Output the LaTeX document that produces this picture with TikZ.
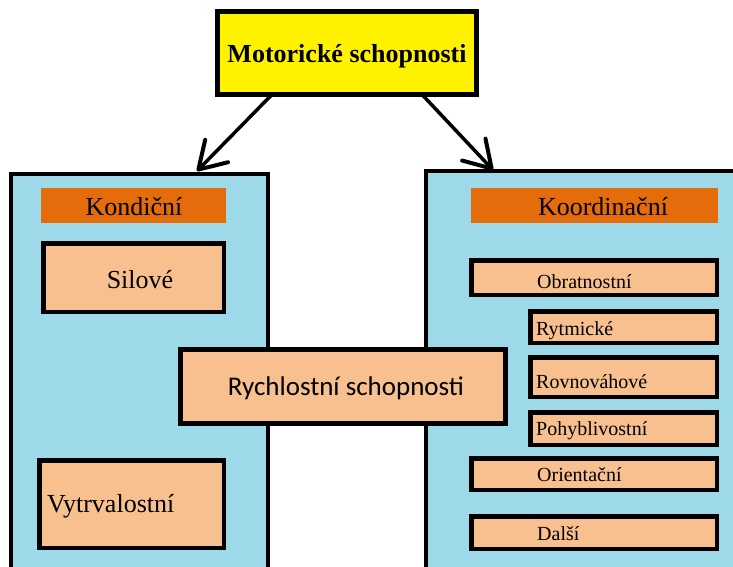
\documentclass[tikz,border=0pt]{standalone}
\usepackage{fontspec}
\setmainfont{Liberation Serif}
\newfontfamily\calibfont{Carlito}
\usetikzlibrary{arrows.meta}
\definecolor{panelblue}{HTML}{9DD9E9}
\definecolor{hdrorange}{HTML}{E46C0A}
\definecolor{peach}{HTML}{F9C08F}
\definecolor{topyellow}{HTML}{FFF200}
\tikzset{
  panel/.style={draw=black, line width=4pt, fill=panelblue, rectangle, outer sep=0pt, inner sep=0pt, anchor=north west},
  hdr/.style={fill=hdrorange, rectangle, outer sep=0pt, inner sep=0pt, anchor=north west},
  sbox/.style={draw=black, line width=4.5pt, fill=peach, rectangle, outer sep=0pt, inner sep=0pt, anchor=north west},
  bigtxt/.style={inner sep=0pt, anchor=base, font=\fontsize{26}{30}\selectfont},
  smalltxt/.style={inner sep=0pt, anchor=base west, font=\fontsize{20}{24}\selectfont},
  arr/.style={line width=3.5pt, -{Straight Barb[length=26pt, width=32pt, line width=4pt, round]}},
}
\begin{document}
\begin{tikzpicture}[x=1pt,y=-1pt]
\useasboundingbox (0,0) rectangle (733,567);
\clip (0,0) rectangle (733,567);
\fill[white] (0,0) rectangle (733,567);
% panels
\node[panel, minimum width=257, minimum height=410] (kond) at (11,174) {};
\node[panel, minimum width=330, minimum height=410] (koord) at (426,171) {};
% headers
\node[hdr, minimum width=185, minimum height=35] (kondh) at (41,188) {};
\node[bigtxt] (kondt) at (134,215) {Kondiční};
\node[hdr, minimum width=247, minimum height=35] (koordh) at (471,188) {};
\node[bigtxt] (koordt) at (603,215) {Koordinační};
% left boxes
\node[sbox, minimum width=180.5, minimum height=68.5] (sil) at (43.25,243.25) {};
\node[bigtxt] (silt) at (140,288) {Silové};
\node[sbox, minimum width=184.5, minimum height=87.5] (vyt) at (39.25,460.25) {};
\node[bigtxt, anchor=base west] (vytt) at (47,512) {Vytrvalostní};
% right boxes
\node[sbox, minimum width=245.5, minimum height=34.5] (obr) at (471.25,260.25) {};
\node[smalltxt] (obrt) at (537,288) {Obratnostní};
\node[sbox, minimum width=186.5, minimum height=31.5] (ryt) at (530.25,311.25) {};
\node[smalltxt] (rytt) at (536,335) {Rytmické};
\node[sbox, minimum width=186.5, minimum height=39.5] (rov) at (530.25,357.25) {};
\node[smalltxt] (rovt) at (536,388) {Rovnováhové};
\node[sbox, minimum width=186.5, minimum height=32.5] (poh) at (530.25,412.25) {};
\node[smalltxt] (poht) at (536,435) {Pohyblivostní};
\node[sbox, minimum width=245.5, minimum height=31.5] (ori) at (471.25,458.25) {};
\node[smalltxt] (orit) at (537,481) {Orientační};
\node[sbox, minimum width=245.5, minimum height=32.5] (dal) at (471.25,516.25) {};
\node[smalltxt] (dalt) at (537,540) {Další};
% middle box
\node[sbox, line width=5pt, minimum width=324.5, minimum height=73.5] (rych) at (180.5,349.5) {};
\node[inner sep=0pt, anchor=base, font=\calibfont\fontsize{27}{32}\selectfont] (rycht) at (346,395) {Rychlostní schopnosti};
% top box
\node[draw=black, line width=5pt, fill=topyellow, rectangle, outer sep=0pt, inner sep=0pt, anchor=north west, minimum width=259, minimum height=83] (top) at (217.5,11.5) {};
\node[bigtxt, font=\bfseries\fontsize{26}{30}\selectfont] (topt) at (347,63) {Motorické schopnosti};
% arrows
\draw[arr] ([xshift=54.5pt]top.south west) -- ([xshift=186pt,yshift=3pt]kond.north west);
\draw[arr] ([xshift=204.5pt]top.south west) -- ([xshift=67pt,yshift=1pt]koord.north west);
\end{tikzpicture}
\end{document}
